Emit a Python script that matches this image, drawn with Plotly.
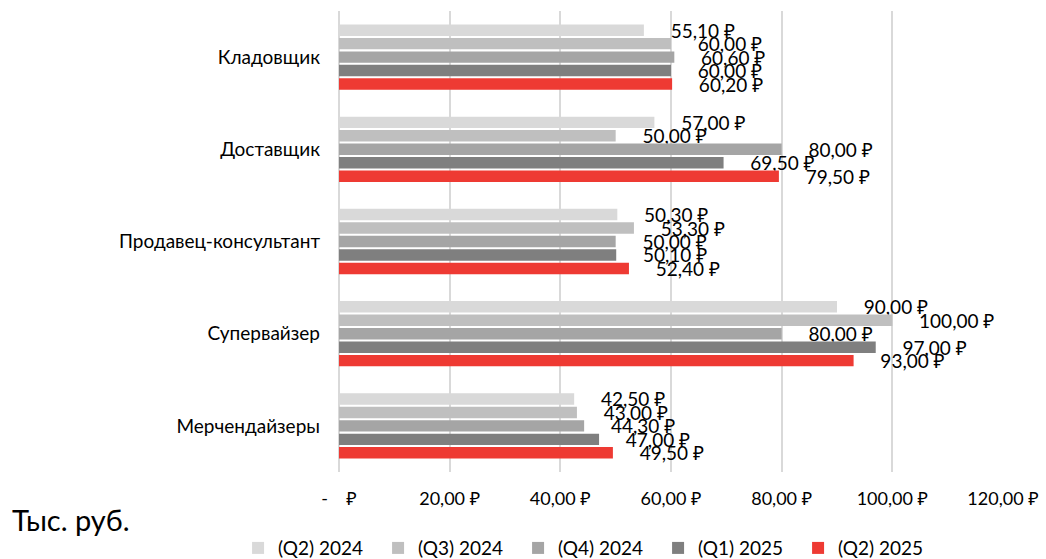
import plotly.graph_objects as go

categories = ["Кладовщик", "Доставщик", "Продавец-консультант", "Супервайзер", "Мерчендайзеры"]
series_names = ["(Q2) 2024", "(Q3) 2024", "(Q4) 2024", "(Q1) 2025", "(Q2) 2025"]
q2_2024 = [55.10, 57.00, 50.30, 90.00, 42.50]
q3_2024 = [60.00, 50.00, 53.30, 100.00, 43.00]
q4_2024 = [60.60, 80.00, 50.00, 80.00, 44.30]
q1_2025 = [60.00, 69.50, 50.10, 97.00, 47.00]
q2_2025 = [60.20, 79.50, 52.40, 93.00, 49.50]
series_values = [q2_2024, q3_2024, q4_2024, q1_2025, q2_2025]
colors = ["#D9D9D9", "#BFBFBF", "#A5A5A5", "#7F7F7F", "#EE3A33"]

tick_vals = [0, 20, 40, 60, 80, 100, 120]
tick_text = ["-\u00a0\u00a0\u00a0\u00a0₽", "20,00 ₽", "40,00 ₽", "60,00 ₽", "80,00 ₽", "100,00 ₽", "120,00 ₽"]

FONT = "Lato, Noto Sans, sans-serif"
pad = "\u2003\u2002"

fig = go.Figure()
for name, vals, col in zip(series_names, series_values, colors):
    fig.add_trace(go.Bar(
        y=categories, x=vals, name=name, orientation="h",
        marker=dict(color=col, line=dict(width=0)),
        text=[pad + f"{v:.2f}".replace(".", ",") + " ₽" for v in vals],
        textposition="outside", cliponaxis=False, constraintext="none",
        textfont=dict(family=FONT, size=19, color="#000000"),
        hoverinfo="skip",
    ))

fig.update_layout(
    width=1046, height=559,
    margin=dict(l=339, r=43, t=11, b=87, autoexpand=False),
    paper_bgcolor="white", plot_bgcolor="white",
    barmode="group", bargap=0.27, bargroupgap=0.15,
    font=dict(family=FONT, color="#000000"),
    xaxis=dict(range=[0, 120], tickvals=tick_vals, ticktext=tick_text, automargin=False,
               showgrid=True, gridcolor="#D9D9D9", gridwidth=2,
               zeroline=True, zerolinecolor="#D9D9D9", zerolinewidth=2,
               showline=False, ticks="", ticklabelstandoff=14,
               tickfont=dict(size=18, family=FONT, color="#000000")),
    yaxis=dict(autorange="reversed", showgrid=False, showline=False, ticks="", automargin=False,
               ticklabelstandoff=18, tickfont=dict(size=19, family=FONT, color="#000000")),
    legend=dict(orientation="h", x=-0.152, xanchor="left", y=-0.165, yanchor="middle",
                font=dict(size=19, family=FONT, color="#000000"),
                itemwidth=30, entrywidth=95, entrywidthmode="pixels", traceorder="normal"),
    annotations=[dict(text="Тыс. руб.", xref="paper", yref="paper", x=-0.495, y=-0.104,
                      xanchor="left", yanchor="middle", showarrow=False,
                      font=dict(size=29, family=FONT, color="#000000"))],
)

fig.write_html("out.html", config={"displayModeBar": False},
               post_script="document.body.style.margin='0';document.body.style.padding='0';")
